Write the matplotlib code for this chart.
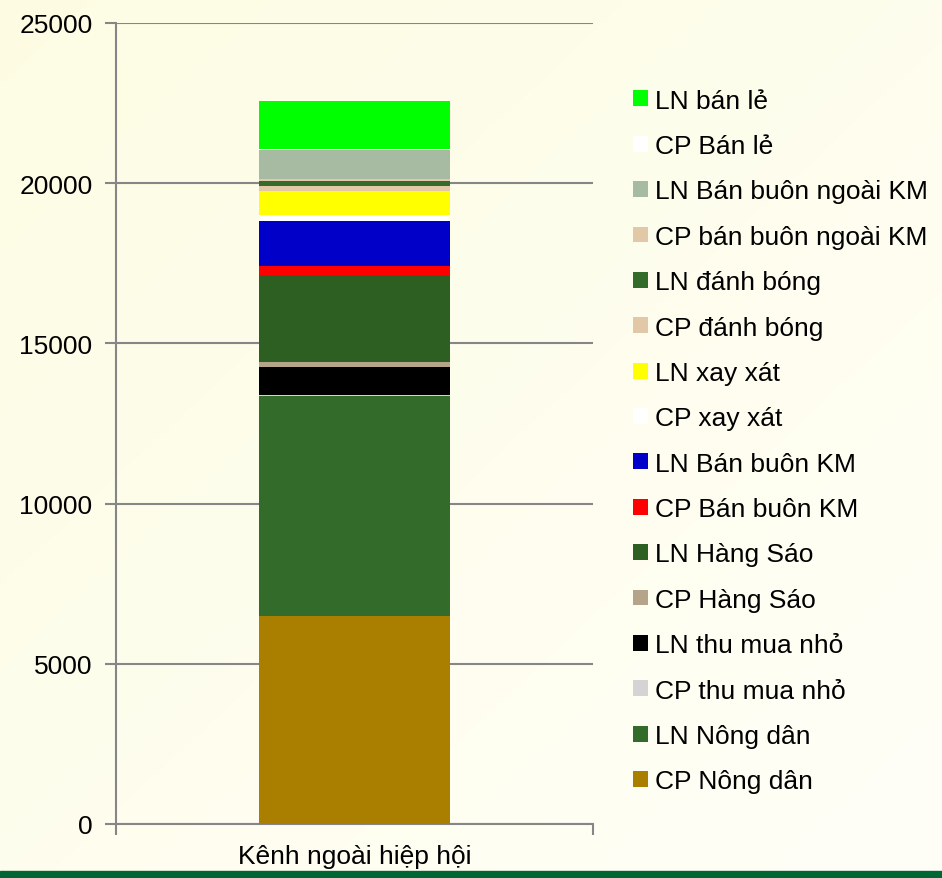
import numpy as np
import matplotlib.pyplot as plt
from matplotlib.patches import Rectangle

plt.rcParams['font.family'] = ['Liberation Sans', 'DejaVu Sans']

category = 'Kênh ngoài hiệp hội'
# stacked from bottom to top
labels = ['CP Nông dân', 'LN Nông dân', 'CP thu mua nhỏ', 'LN thu mua nhỏ',
          'CP Hàng Sáo', 'LN Hàng Sáo', 'CP Bán buôn KM', 'LN Bán buôn KM',
          'CP xay xát', 'LN xay xát', 'CP đánh bóng', 'LN đánh bóng',
          'CP bán buôn ngoài KM', 'LN Bán buôn ngoài KM', 'CP Bán lẻ', 'LN bán lẻ']
values = [6500, 6850, 40, 870,
          160, 2700, 310, 1380,
          190, 750, 156, 156,
          72, 896, 30, 1500]
colors = ['#AA7F00', '#336B2A', '#D4D4D4', '#000000',
          '#B5A48A', '#2D5E22', '#FF0000', '#0000C8',
          '#FFFFFF', '#FFFF00', '#E3C8A8', '#336B2A',
          '#E3C8A8', '#A6BBA2', '#FFFFFF', '#00FF00']
yticks = [0, 5000, 10000, 15000, 20000, 25000]

fig = plt.figure(figsize=(9.42, 8.79), dpi=100)
fig.patch.set_facecolor('#FFFFF0')

# soft diagonal background, yellower at top-left
bg = fig.add_axes([0, 0, 1, 1], zorder=-10)
gx, gy = np.meshgrid(np.linspace(0, 1, 200), np.linspace(0, 1, 200))
t = np.clip((gx + gy) / 2, 0, 1)[..., None]
c0 = np.array([0xFD, 0xFC, 0xE3]) / 255
c1 = np.array([0xFF, 0xFF, 0xF8]) / 255
bg.imshow(c0 + (c1 - c0) * t, aspect='auto', extent=[0, 1, 0, 1], origin='upper')
bg.axis('off')

ax = fig.add_axes([116/942, 54/879, 477/942, 801/879])
ax.set_facecolor('none')

bottom = 0
bars = []
for lab, v, c in zip(labels, values, colors):
    b = ax.bar(0, v, width=0.4, bottom=bottom, color=c, label=lab, zorder=3)
    bars.append(b)
    bottom += v

ax.set_xlim(-0.5, 0.5)
ax.set_ylim(0, 25000)
ax.set_yticks(yticks)
ax.set_yticklabels([str(t) for t in yticks], fontsize=19)
ax.yaxis.grid(True, color='#868686', linewidth=1.5, zorder=0)
ax.tick_params(axis='y', length=8, width=1.5, color='#868686', pad=9)

ax.set_xticks([0])
ax.set_xticklabels([category], fontsize=19)
ax.tick_params(axis='x', which='major', length=0, pad=14.5)
ax.set_xticks([-0.5, 0.5], minor=True)
ax.tick_params(axis='x', which='minor', length=8, width=1.5, color='#868686')

for s in ['top', 'right']:
    ax.spines[s].set_visible(False)
for s in ['left', 'bottom']:
    ax.spines[s].set_color('#868686')
    ax.spines[s].set_linewidth(1.5)

handles = [b[0] for b in bars][::-1]
fig.legend(handles, labels[::-1], loc='center left',
           bbox_to_anchor=(633/942, 1 - 442/879), frameon=False,
           fontsize=19, handlelength=0.55, handleheight=0.55,
           handletextpad=0.3, labelspacing=0.81, borderpad=0, borderaxespad=0)

fig.add_artist(Rectangle((0, 0), 1, 7/879, transform=fig.transFigure,
                         color='#006633'))

fig.savefig('out.png', dpi=100, facecolor=fig.get_facecolor())
